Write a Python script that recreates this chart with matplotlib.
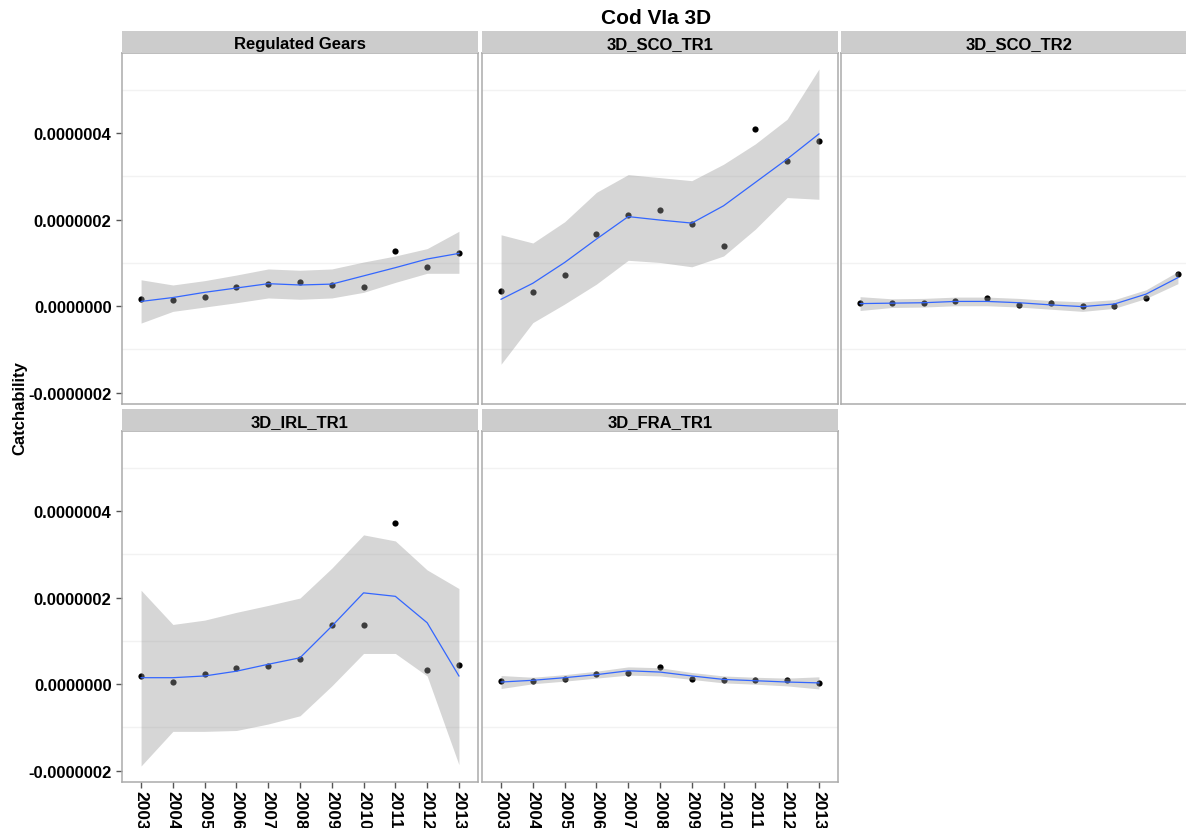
import matplotlib.pyplot as plt

plt.rcParams['font.family'] = ['Liberation Sans', 'DejaVu Sans']

years = list(range(2003, 2014))
panel_names = ['Regulated Gears', '3D_SCO_TR1', '3D_SCO_TR2', '3D_IRL_TR1', '3D_FRA_TR1']

# all values below are in units of 1e-7
scale = 1e-7

# observed catchability
reg_pts = [0.16, 0.14, 0.22, 0.45, 0.52, 0.56, 0.49, 0.45, 1.28, 0.91, 1.23]
sco1_pts = [0.34, 0.32, 0.72, 1.67, 2.10, 2.23, 1.90, 1.38, 4.09, 3.35, 3.82]
sco2_pts = [0.07, 0.07, 0.08, 0.12, 0.18, 0.03, 0.07, 0.01, 0.01, 0.19, 0.74]
irl_pts = [0.19, 0.05, 0.24, 0.38, 0.42, 0.58, 1.36, 1.36, 3.73, 0.33, 0.44]
fra_pts = [0.08, 0.08, 0.11, 0.23, 0.27, 0.40, 0.11, 0.09, 0.10, 0.09, 0.02]

# smoothed fit
reg_fit = [0.11, 0.20, 0.32, 0.42, 0.52, 0.49, 0.51, 0.70, 0.89, 1.09, 1.22]
sco1_fit = [0.16, 0.53, 1.01, 1.55, 2.07, 1.99, 1.92, 2.32, 2.86, 3.40, 3.98]
sco2_fit = [0.06, 0.07, 0.08, 0.11, 0.11, 0.08, 0.03, -0.01, 0.05, 0.28, 0.66]
irl_fit = [0.15, 0.15, 0.19, 0.30, 0.46, 0.61, 1.34, 2.11, 2.03, 1.42, 0.19]
fra_fit = [0.05, 0.09, 0.15, 0.22, 0.31, 0.28, 0.19, 0.11, 0.08, 0.05, 0.03]

# confidence band
reg_hi = [0.61, 0.49, 0.59, 0.72, 0.86, 0.83, 0.86, 1.02, 1.16, 1.33, 1.73]
reg_lo = [-0.39, -0.12, -0.02, 0.08, 0.19, 0.16, 0.19, 0.32, 0.55, 0.76, 0.76]
sco1_hi = [1.65, 1.46, 1.95, 2.63, 3.04, 2.97, 2.90, 3.28, 3.75, 4.32, 5.48]
sco1_lo = [-1.34, -0.38, 0.05, 0.51, 1.06, 1.01, 0.91, 1.16, 1.78, 2.51, 2.47]
sco2_hi = [0.22, 0.17, 0.18, 0.21, 0.21, 0.18, 0.13, 0.10, 0.15, 0.38, 0.80]
sco2_lo = [-0.10, -0.03, -0.02, 0.01, 0.01, -0.02, -0.07, -0.12, -0.05, 0.18, 0.52]
irl_hi = [2.17, 1.38, 1.48, 1.66, 1.82, 1.99, 2.68, 3.45, 3.31, 2.64, 2.21]
irl_lo = [-1.89, -1.09, -1.09, -1.07, -0.92, -0.73, -0.04, 0.71, 0.71, 0.19, -1.86]
fra_hi = [0.20, 0.16, 0.22, 0.30, 0.40, 0.38, 0.27, 0.19, 0.16, 0.14, 0.17]
fra_lo = [-0.10, 0.01, 0.07, 0.14, 0.21, 0.19, 0.11, 0.03, 0.00, -0.04, -0.11]

series = [
    (reg_pts, reg_fit, reg_lo, reg_hi),
    (sco1_pts, sco1_fit, sco1_lo, sco1_hi),
    (sco2_pts, sco2_fit, sco2_lo, sco2_hi),
    (irl_pts, irl_fit, irl_lo, irl_hi),
    (fra_pts, fra_fit, fra_lo, fra_hi),
]

y_ticks = [-2, 0, 2, 4]
y_ticklabels = ['-0.0000002', '0.0000000', '0.0000002', '0.0000004']
y_minor = [-1, 1, 3, 5]

W, H = 1186, 829
fig = plt.figure(figsize=(W / 100, H / 100), dpi=100)

col_left = [122, 482, 841]
panel_w = 356
panel_h = 351
strip_h = 22
row_top = [54, 432]  # pixel y of panel top

for i, (name, (pts, fit, lo, hi)) in enumerate(zip(panel_names, series)):
    r, c = divmod(i, 3)
    x0 = col_left[c]
    y0 = row_top[r]
    ax = fig.add_axes([x0 / W, 1 - (y0 + panel_h) / H, panel_w / W, panel_h / H])
    sax = fig.add_axes([x0 / W, 1 - y0 / H, panel_w / W, strip_h / H])

    ax.scatter(years, [v * scale for v in pts], s=20, color='black', zorder=2, linewidths=0)
    ax.fill_between(years, [v * scale for v in lo], [v * scale for v in hi],
                    color='#999999', alpha=0.4, linewidth=0, zorder=3)
    ax.plot(years, [v * scale for v in fit], color='#3366FF', lw=0.9, zorder=4)

    ax.set_xlim(2002.4, 2013.6)
    ax.set_ylim(-2.26 * scale, 5.85 * scale)
    ax.set_yticks([t * scale for t in y_ticks])
    ax.set_yticks([t * scale for t in y_minor], minor=True)
    ax.set_xticks(years)
    ax.grid(which='minor', axis='y', color='#F2F2F2', lw=1)
    ax.grid(which='major', visible=False)
    ax.set_axisbelow(True)
    ax.tick_params(which='minor', length=0)
    ax.tick_params(which='major', color='#555555', length=4, width=1)
    for s in ax.spines.values():
        s.set_color('#ABABAB')
        s.set_linewidth(1.1)

    if c == 0:
        ax.set_yticklabels(y_ticklabels, fontsize=12, fontweight='bold')
    else:
        ax.tick_params(axis='y', which='major', length=0, labelleft=False)
    if r == 1:
        ax.set_xticklabels([str(y) for y in years], rotation=-90, fontsize=12.5,
                           fontweight='bold', va='top', ha='center')
        ax.tick_params(axis='x', pad=2)
    else:
        ax.tick_params(axis='x', which='major', length=0, labelbottom=False)

    sax.set_facecolor('#CCCCCC')
    sax.set_xticks([])
    sax.set_yticks([])
    for s in sax.spines.values():
        s.set_visible(False)
    sax.text(0.5, 0.45, name, transform=sax.transAxes, ha='center', va='center',
             fontsize=12, fontweight='bold')

fig.text(656 / W, 1 - 19 / H, 'Cod VIa 3D', ha='center', va='center',
         fontsize=15, fontweight='bold')
fig.text(20 / W, 1 - 408 / H, 'Catchability', rotation=90, ha='center', va='center',
         fontsize=12, fontweight='bold')

fig.savefig('out.png', dpi=100)
